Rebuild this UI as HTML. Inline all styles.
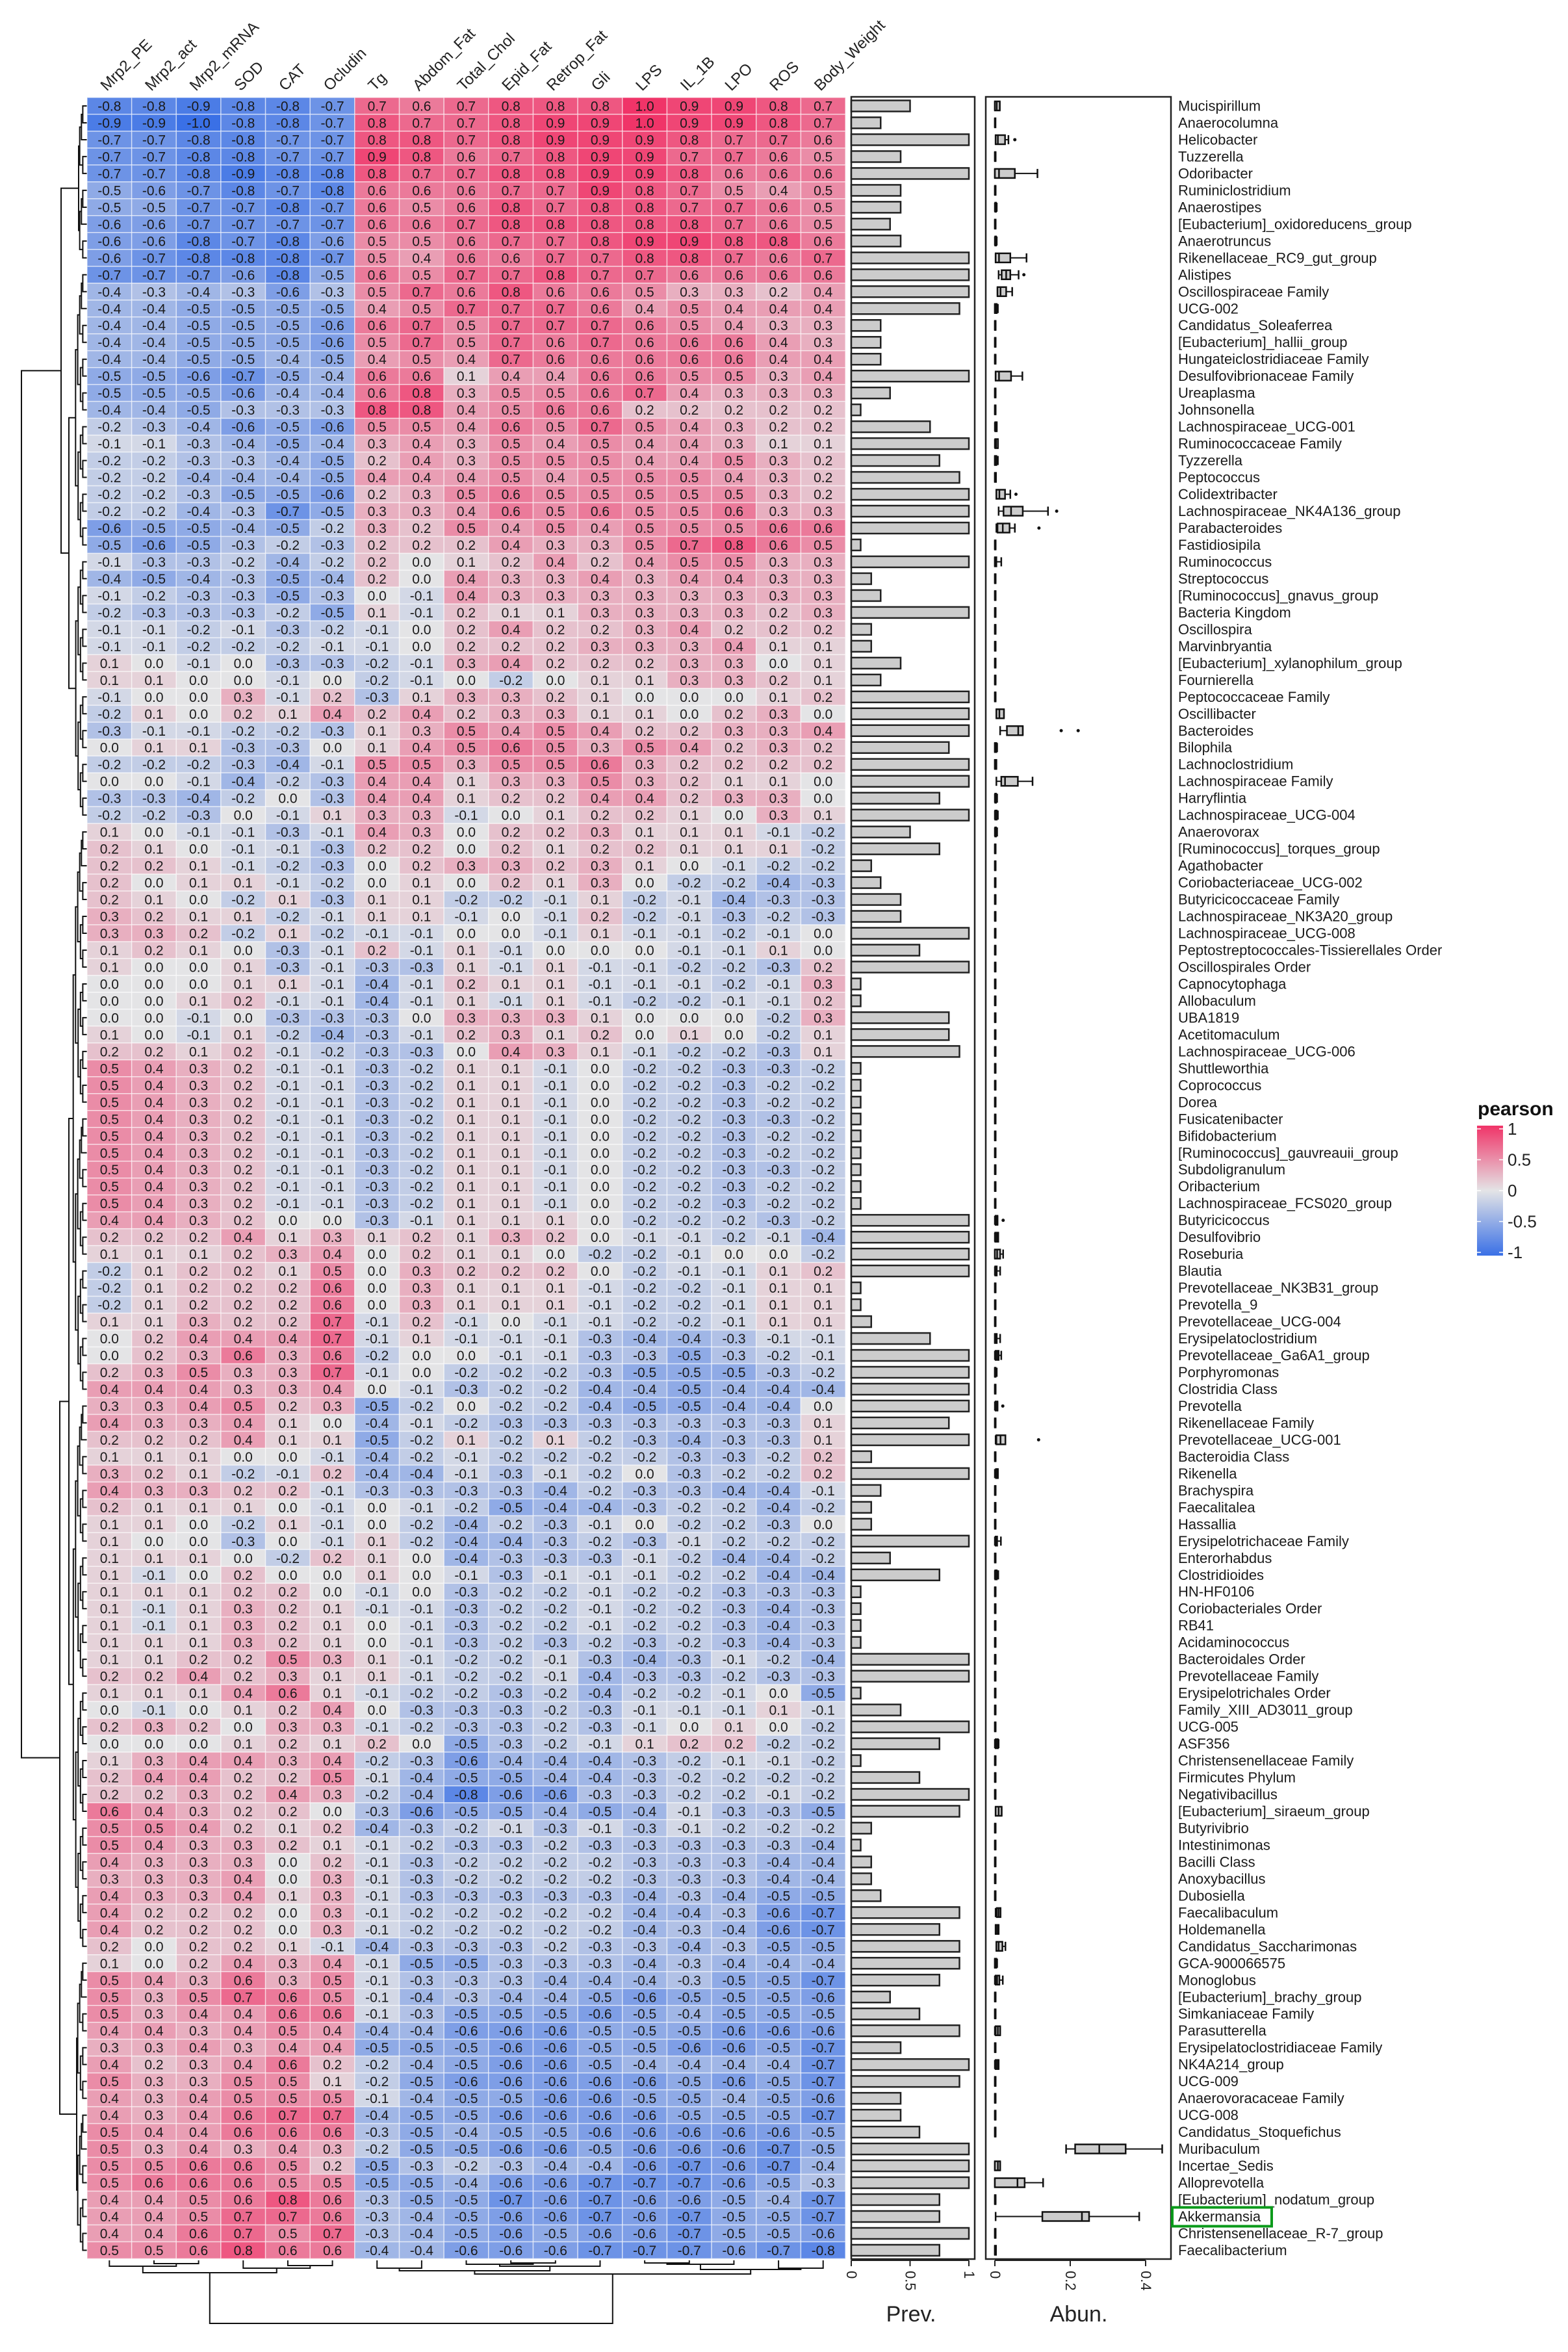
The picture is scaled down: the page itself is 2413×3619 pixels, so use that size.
<!DOCTYPE html>
<html><head><meta charset="utf-8"><title>Correlation heatmap</title>
<style>
html,body{margin:0;padding:0;background:#fff;}
svg{display:block;font-family:"Liberation Sans",Arial,sans-serif;}
</style></head>
<body>
<svg id="chart" width="2413" height="3619" viewBox="0 0 2413 3619" xmlns="http://www.w3.org/2000/svg">
<rect x="0" y="0" width="2413" height="3619" fill="#fff"/>
<g id="dend-rows" stroke="#111" stroke-width="2" fill="none"></g>
<g id="dend-cols" stroke="#111" stroke-width="2" fill="none"></g>
<g id="cells"></g>
<g id="collabels"></g>
<g id="prev"></g>
<g id="abun"></g>
<g id="rowlabels"></g>
<g id="legend"></g>
</svg>
<script>
const cols = ["Mrp2_PE","Mrp2_act","Mrp2_mRNA","SOD","CAT","Ocludin","Tg","Abdom_Fat","Total_Chol","Epid_Fat","Retrop_Fat","Gli","LPS","IL_1B","LPO","ROS","Body_Weight"];
const rows = ["Mucispirillum","Anaerocolumna","Helicobacter","Tuzzerella","Odoribacter","Ruminiclostridium","Anaerostipes","[Eubacterium]_oxidoreducens_group","Anaerotruncus","Rikenellaceae_RC9_gut_group","Alistipes","Oscillospiraceae Family","UCG-002","Candidatus_Soleaferrea","[Eubacterium]_hallii_group","Hungateiclostridiaceae Family","Desulfovibrionaceae Family","Ureaplasma","Johnsonella","Lachnospiraceae_UCG-001","Ruminococcaceae Family","Tyzzerella","Peptococcus","Colidextribacter","Lachnospiraceae_NK4A136_group","Parabacteroides","Fastidiosipila","Ruminococcus","Streptococcus","[Ruminococcus]_gnavus_group","Bacteria Kingdom","Oscillospira","Marvinbryantia","[Eubacterium]_xylanophilum_group","Fournierella","Peptococcaceae Family","Oscillibacter","Bacteroides","Bilophila","Lachnoclostridium","Lachnospiraceae Family","Harryflintia","Lachnospiraceae_UCG-004","Anaerovorax","[Ruminococcus]_torques_group","Agathobacter","Coriobacteriaceae_UCG-002","Butyricicoccaceae Family","Lachnospiraceae_NK3A20_group","Lachnospiraceae_UCG-008","Peptostreptococcales-Tissierellales Order","Oscillospirales Order","Capnocytophaga","Allobaculum","UBA1819","Acetitomaculum","Lachnospiraceae_UCG-006","Shuttleworthia","Coprococcus","Dorea","Fusicatenibacter","Bifidobacterium","[Ruminococcus]_gauvreauii_group","Subdoligranulum","Oribacterium","Lachnospiraceae_FCS020_group","Butyricicoccus","Desulfovibrio","Roseburia","Blautia","Prevotellaceae_NK3B31_group","Prevotella_9","Prevotellaceae_UCG-004","Erysipelatoclostridium","Prevotellaceae_Ga6A1_group","Porphyromonas","Clostridia Class","Prevotella","Rikenellaceae Family","Prevotellaceae_UCG-001","Bacteroidia Class","Rikenella","Brachyspira","Faecalitalea","Hassallia","Erysipelotrichaceae Family","Enterorhabdus","Clostridioides","HN-HF0106","Coriobacteriales Order","RB41","Acidaminococcus","Bacteroidales Order","Prevotellaceae Family","Erysipelotrichales Order","Family_XIII_AD3011_group","UCG-005","ASF356","Christensenellaceae Family","Firmicutes Phylum","Negativibacillus","[Eubacterium]_siraeum_group","Butyrivibrio","Intestinimonas","Bacilli Class","Anoxybacillus","Dubosiella","Faecalibaculum","Holdemanella","Candidatus_Saccharimonas","GCA-900066575","Monoglobus","[Eubacterium]_brachy_group","Simkaniaceae Family","Parasutterella","Erysipelatoclostridiaceae Family","NK4A214_group","UCG-009","Anaerovoracaceae Family","UCG-008","Candidatus_Stoquefichus","Muribaculum","Incertae_Sedis","Alloprevotella","[Eubacterium]_nodatum_group","Akkermansia","Christensenellaceae_R-7_group","Faecalibacterium"];
const corr = [
[-0.8,-0.8,-0.9,-0.8,-0.8,-0.7,0.7,0.6,0.7,0.8,0.8,0.8,1.0,0.9,0.9,0.8,0.7],
[-0.9,-0.9,-1.0,-0.8,-0.8,-0.7,0.8,0.7,0.7,0.8,0.9,0.9,1.0,0.9,0.9,0.8,0.7],
[-0.7,-0.7,-0.8,-0.8,-0.7,-0.7,0.8,0.8,0.7,0.8,0.9,0.9,0.9,0.8,0.7,0.7,0.6],
[-0.7,-0.7,-0.8,-0.8,-0.7,-0.7,0.9,0.8,0.6,0.7,0.8,0.9,0.9,0.7,0.7,0.6,0.5],
[-0.7,-0.7,-0.8,-0.9,-0.8,-0.8,0.8,0.7,0.7,0.8,0.8,0.9,0.9,0.8,0.6,0.6,0.6],
[-0.5,-0.6,-0.7,-0.8,-0.7,-0.8,0.6,0.6,0.6,0.7,0.7,0.9,0.8,0.7,0.5,0.4,0.5],
[-0.5,-0.5,-0.7,-0.7,-0.8,-0.7,0.6,0.5,0.6,0.8,0.7,0.8,0.8,0.7,0.7,0.6,0.5],
[-0.6,-0.6,-0.7,-0.7,-0.7,-0.7,0.6,0.6,0.7,0.8,0.8,0.8,0.8,0.8,0.7,0.6,0.5],
[-0.6,-0.6,-0.8,-0.7,-0.8,-0.6,0.5,0.5,0.6,0.7,0.7,0.8,0.9,0.9,0.8,0.8,0.6],
[-0.6,-0.7,-0.8,-0.8,-0.8,-0.7,0.5,0.4,0.6,0.6,0.7,0.7,0.8,0.8,0.7,0.6,0.7],
[-0.7,-0.7,-0.7,-0.6,-0.8,-0.5,0.6,0.5,0.7,0.7,0.8,0.7,0.7,0.6,0.6,0.6,0.6],
[-0.4,-0.3,-0.4,-0.3,-0.6,-0.3,0.5,0.7,0.6,0.8,0.6,0.6,0.5,0.3,0.3,0.2,0.4],
[-0.4,-0.4,-0.5,-0.5,-0.5,-0.5,0.4,0.5,0.7,0.7,0.7,0.6,0.4,0.5,0.4,0.4,0.4],
[-0.4,-0.4,-0.5,-0.5,-0.5,-0.6,0.6,0.7,0.5,0.7,0.7,0.7,0.6,0.5,0.4,0.3,0.3],
[-0.4,-0.4,-0.5,-0.5,-0.5,-0.6,0.5,0.7,0.5,0.7,0.6,0.7,0.6,0.6,0.6,0.4,0.3],
[-0.4,-0.4,-0.5,-0.5,-0.4,-0.5,0.4,0.5,0.4,0.7,0.6,0.6,0.6,0.6,0.6,0.4,0.4],
[-0.5,-0.5,-0.6,-0.7,-0.5,-0.4,0.6,0.6,0.1,0.4,0.4,0.6,0.6,0.5,0.5,0.3,0.4],
[-0.5,-0.5,-0.5,-0.6,-0.4,-0.4,0.6,0.8,0.3,0.5,0.5,0.6,0.7,0.4,0.3,0.3,0.3],
[-0.4,-0.4,-0.5,-0.3,-0.3,-0.3,0.8,0.8,0.4,0.5,0.6,0.6,0.2,0.2,0.2,0.2,0.2],
[-0.2,-0.3,-0.4,-0.6,-0.5,-0.6,0.5,0.5,0.4,0.6,0.5,0.7,0.5,0.4,0.3,0.2,0.2],
[-0.1,-0.1,-0.3,-0.4,-0.5,-0.4,0.3,0.4,0.3,0.5,0.4,0.5,0.4,0.4,0.3,0.1,0.1],
[-0.2,-0.2,-0.3,-0.3,-0.4,-0.5,0.2,0.4,0.3,0.5,0.5,0.5,0.4,0.4,0.5,0.3,0.2],
[-0.2,-0.2,-0.4,-0.4,-0.4,-0.5,0.4,0.4,0.4,0.5,0.4,0.5,0.5,0.5,0.4,0.3,0.2],
[-0.2,-0.2,-0.3,-0.5,-0.5,-0.6,0.2,0.3,0.5,0.6,0.5,0.5,0.5,0.5,0.5,0.3,0.2],
[-0.2,-0.2,-0.4,-0.3,-0.7,-0.5,0.3,0.3,0.4,0.6,0.5,0.6,0.5,0.5,0.6,0.3,0.3],
[-0.6,-0.5,-0.5,-0.4,-0.5,-0.2,0.3,0.2,0.5,0.4,0.5,0.4,0.5,0.5,0.5,0.6,0.6],
[-0.5,-0.6,-0.5,-0.3,-0.2,-0.3,0.2,0.2,0.2,0.4,0.3,0.3,0.5,0.7,0.8,0.6,0.5],
[-0.1,-0.3,-0.3,-0.2,-0.4,-0.2,0.2,-0.0,0.1,0.2,0.4,0.2,0.4,0.5,0.5,0.3,0.3],
[-0.4,-0.5,-0.4,-0.3,-0.5,-0.4,0.2,0.0,0.4,0.3,0.3,0.4,0.3,0.4,0.4,0.3,0.3],
[-0.1,-0.2,-0.3,-0.3,-0.5,-0.3,0.0,-0.1,0.4,0.3,0.3,0.3,0.3,0.3,0.3,0.3,0.3],
[-0.2,-0.3,-0.3,-0.3,-0.2,-0.5,0.1,-0.1,0.2,0.1,0.1,0.3,0.3,0.3,0.3,0.2,0.3],
[-0.1,-0.1,-0.2,-0.1,-0.3,-0.2,-0.1,0.0,0.2,0.4,0.2,0.2,0.3,0.4,0.2,0.2,0.2],
[-0.1,-0.1,-0.2,-0.2,-0.2,-0.1,-0.1,-0.0,0.2,0.2,0.2,0.3,0.3,0.3,0.4,0.1,0.1],
[0.1,-0.0,-0.1,0.0,-0.3,-0.3,-0.2,-0.1,0.3,0.4,0.2,0.2,0.2,0.3,0.3,0.0,0.1],
[0.1,0.1,0.0,0.0,-0.1,-0.0,-0.2,-0.1,-0.0,-0.2,-0.0,0.1,0.1,0.3,0.3,0.2,0.1],
[-0.1,-0.0,0.0,0.3,-0.1,0.2,-0.3,0.1,0.3,0.3,0.2,0.1,-0.0,-0.0,0.0,0.1,0.2],
[-0.2,0.1,0.0,0.2,0.1,0.4,0.2,0.4,0.2,0.3,0.3,0.1,0.1,0.0,0.2,0.3,-0.0],
[-0.3,-0.1,-0.1,-0.2,-0.2,-0.3,0.1,0.3,0.5,0.4,0.5,0.4,0.2,0.2,0.3,0.3,0.4],
[-0.0,0.1,0.1,-0.3,-0.3,-0.0,0.1,0.4,0.5,0.6,0.5,0.3,0.5,0.4,0.2,0.3,0.2],
[-0.2,-0.2,-0.2,-0.3,-0.4,-0.1,0.5,0.5,0.3,0.5,0.5,0.6,0.3,0.2,0.2,0.2,0.2],
[-0.0,-0.0,-0.1,-0.4,-0.2,-0.3,0.4,0.4,0.1,0.3,0.3,0.5,0.3,0.2,0.1,0.1,-0.0],
[-0.3,-0.3,-0.4,-0.2,-0.0,-0.3,0.4,0.4,0.1,0.2,0.2,0.4,0.4,0.2,0.3,0.3,0.0],
[-0.2,-0.2,-0.3,-0.0,-0.1,0.1,0.3,0.3,-0.1,0.0,0.1,0.2,0.2,0.1,0.0,0.3,0.1],
[0.1,0.0,-0.1,-0.1,-0.3,-0.1,0.4,0.3,-0.0,0.2,0.2,0.3,0.1,0.1,0.1,-0.1,-0.2],
[0.2,0.1,-0.0,-0.1,-0.1,-0.3,0.2,0.2,0.0,0.2,0.1,0.2,0.2,0.1,0.1,0.1,-0.2],
[0.2,0.2,0.1,-0.1,-0.2,-0.3,0.0,0.2,0.3,0.3,0.2,0.3,0.1,-0.0,-0.1,-0.2,-0.2],
[0.2,0.0,0.1,0.1,-0.1,-0.2,0.0,0.1,0.0,0.2,0.1,0.3,-0.0,-0.2,-0.2,-0.4,-0.3],
[0.2,0.1,0.0,-0.2,0.1,-0.3,0.1,0.1,-0.2,-0.2,-0.1,0.1,-0.2,-0.1,-0.4,-0.3,-0.3],
[0.3,0.2,0.1,0.1,-0.2,-0.1,0.1,0.1,-0.1,0.0,-0.1,0.2,-0.2,-0.1,-0.3,-0.2,-0.3],
[0.3,0.3,0.2,-0.2,0.1,-0.2,-0.1,-0.1,-0.0,-0.0,-0.1,0.1,-0.1,-0.1,-0.2,-0.1,0.0],
[0.1,0.2,0.1,-0.0,-0.3,-0.1,0.2,-0.1,0.1,-0.1,-0.0,0.0,-0.0,-0.1,-0.1,0.1,-0.0],
[0.1,-0.0,-0.0,0.1,-0.3,-0.1,-0.3,-0.3,0.1,-0.1,0.1,-0.1,-0.1,-0.2,-0.2,-0.3,0.2],
[0.0,0.0,0.0,0.1,0.1,-0.1,-0.4,-0.1,0.2,0.1,0.1,-0.1,-0.1,-0.1,-0.2,-0.1,0.3],
[0.0,0.0,0.1,0.2,-0.1,-0.1,-0.4,-0.1,0.1,-0.1,0.1,-0.1,-0.2,-0.2,-0.1,-0.1,0.2],
[0.0,-0.0,-0.1,0.0,-0.3,-0.3,-0.3,-0.0,0.3,0.3,0.3,0.1,0.0,0.0,-0.0,-0.2,0.3],
[0.1,-0.0,-0.1,0.1,-0.2,-0.4,-0.3,-0.1,0.2,0.3,0.1,0.2,0.0,0.1,0.0,-0.2,0.1],
[0.2,0.2,0.1,0.2,-0.1,-0.2,-0.3,-0.3,0.0,0.4,0.3,0.1,-0.1,-0.2,-0.2,-0.3,0.1],
[0.5,0.4,0.3,0.2,-0.1,-0.1,-0.3,-0.2,0.1,0.1,-0.1,-0.0,-0.2,-0.2,-0.3,-0.3,-0.2],
[0.5,0.4,0.3,0.2,-0.1,-0.1,-0.3,-0.2,0.1,0.1,-0.1,-0.0,-0.2,-0.2,-0.3,-0.2,-0.2],
[0.5,0.4,0.3,0.2,-0.1,-0.1,-0.3,-0.2,0.1,0.1,-0.1,-0.0,-0.2,-0.2,-0.3,-0.2,-0.2],
[0.5,0.4,0.3,0.2,-0.1,-0.1,-0.3,-0.2,0.1,0.1,-0.1,-0.0,-0.2,-0.2,-0.3,-0.3,-0.2],
[0.5,0.4,0.3,0.2,-0.1,-0.1,-0.3,-0.2,0.1,0.1,-0.1,-0.0,-0.2,-0.2,-0.3,-0.2,-0.2],
[0.5,0.4,0.3,0.2,-0.1,-0.1,-0.3,-0.2,0.1,0.1,-0.1,-0.0,-0.2,-0.2,-0.3,-0.2,-0.2],
[0.5,0.4,0.3,0.2,-0.1,-0.1,-0.3,-0.2,0.1,0.1,-0.1,-0.0,-0.2,-0.2,-0.3,-0.3,-0.2],
[0.5,0.4,0.3,0.2,-0.1,-0.1,-0.3,-0.2,0.1,0.1,-0.1,-0.0,-0.2,-0.2,-0.3,-0.2,-0.2],
[0.5,0.4,0.3,0.2,-0.1,-0.1,-0.3,-0.2,0.1,0.1,-0.1,-0.0,-0.2,-0.2,-0.3,-0.2,-0.2],
[0.4,0.4,0.3,0.2,-0.0,0.0,-0.3,-0.1,0.1,0.1,0.1,0.0,-0.2,-0.2,-0.2,-0.3,-0.2],
[0.2,0.2,0.2,0.4,0.1,0.3,0.1,0.2,0.1,0.3,0.2,0.0,-0.1,-0.1,-0.2,-0.1,-0.4],
[0.1,0.1,0.1,0.2,0.3,0.4,0.0,0.2,0.1,0.1,-0.0,-0.2,-0.2,-0.1,-0.0,-0.0,-0.2],
[-0.2,0.1,0.2,0.2,0.1,0.5,-0.0,0.3,0.2,0.2,0.2,0.0,-0.2,-0.1,-0.1,0.1,0.2],
[-0.2,0.1,0.2,0.2,0.2,0.6,0.0,0.3,0.1,0.1,0.1,-0.1,-0.2,-0.2,-0.1,0.1,0.1],
[-0.2,0.1,0.2,0.2,0.2,0.6,0.0,0.3,0.1,0.1,0.1,-0.1,-0.2,-0.2,-0.1,0.1,0.1],
[0.1,0.1,0.3,0.2,0.2,0.7,-0.1,0.2,-0.1,-0.0,-0.1,-0.1,-0.2,-0.2,-0.1,0.1,0.1],
[-0.0,0.2,0.4,0.4,0.4,0.7,-0.1,0.1,-0.1,-0.1,-0.1,-0.3,-0.4,-0.4,-0.3,-0.1,-0.1],
[0.0,0.2,0.3,0.6,0.3,0.6,-0.2,0.0,0.0,-0.1,-0.1,-0.3,-0.3,-0.5,-0.3,-0.2,-0.1],
[0.2,0.3,0.5,0.3,0.3,0.7,-0.1,0.0,-0.2,-0.2,-0.2,-0.3,-0.5,-0.5,-0.5,-0.3,-0.2],
[0.4,0.4,0.4,0.3,0.3,0.4,-0.0,-0.1,-0.3,-0.2,-0.2,-0.4,-0.4,-0.5,-0.4,-0.4,-0.4],
[0.3,0.3,0.4,0.5,0.2,0.3,-0.5,-0.2,-0.0,-0.2,-0.2,-0.4,-0.5,-0.5,-0.4,-0.4,0.0],
[0.4,0.3,0.3,0.4,0.1,0.0,-0.4,-0.1,-0.2,-0.3,-0.3,-0.3,-0.3,-0.3,-0.3,-0.3,0.1],
[0.2,0.2,0.2,0.4,0.1,0.1,-0.5,-0.2,0.1,-0.2,0.1,-0.2,-0.3,-0.4,-0.3,-0.3,0.1],
[0.1,0.1,0.1,0.0,-0.0,-0.1,-0.4,-0.2,-0.1,-0.2,-0.2,-0.2,-0.2,-0.3,-0.3,-0.2,0.2],
[0.3,0.2,0.1,-0.2,-0.1,0.2,-0.4,-0.4,-0.1,-0.3,-0.1,-0.2,-0.0,-0.3,-0.2,-0.2,0.2],
[0.4,0.3,0.3,0.2,0.2,-0.1,-0.3,-0.3,-0.3,-0.3,-0.4,-0.2,-0.3,-0.3,-0.4,-0.4,-0.1],
[0.2,0.1,0.1,0.1,0.0,-0.1,0.0,-0.1,-0.2,-0.5,-0.4,-0.4,-0.3,-0.2,-0.2,-0.4,-0.2],
[0.1,0.1,0.0,-0.2,0.1,-0.1,0.0,-0.2,-0.4,-0.2,-0.3,-0.1,0.0,-0.2,-0.2,-0.3,-0.0],
[0.1,-0.0,0.0,-0.3,0.0,-0.1,0.1,-0.2,-0.4,-0.4,-0.3,-0.2,-0.3,-0.1,-0.2,-0.2,-0.2],
[0.1,0.1,0.1,0.0,-0.2,0.2,0.1,-0.0,-0.4,-0.3,-0.3,-0.3,-0.1,-0.2,-0.4,-0.4,-0.2],
[0.1,-0.1,0.0,0.2,0.0,-0.0,0.1,-0.0,-0.1,-0.3,-0.1,-0.1,-0.1,-0.2,-0.2,-0.4,-0.4],
[0.1,0.1,0.1,0.2,0.2,0.0,-0.1,-0.0,-0.3,-0.2,-0.2,-0.1,-0.2,-0.2,-0.3,-0.3,-0.3],
[0.1,-0.1,0.1,0.3,0.2,0.1,-0.1,-0.1,-0.3,-0.2,-0.2,-0.1,-0.2,-0.2,-0.3,-0.4,-0.3],
[0.1,-0.1,0.1,0.3,0.2,0.1,-0.0,-0.1,-0.3,-0.2,-0.2,-0.1,-0.2,-0.2,-0.3,-0.4,-0.3],
[0.1,0.1,0.1,0.3,0.2,0.1,-0.0,-0.1,-0.3,-0.2,-0.3,-0.2,-0.3,-0.2,-0.3,-0.4,-0.3],
[0.1,0.1,0.2,0.2,0.5,0.3,0.1,-0.1,-0.2,-0.2,-0.1,-0.3,-0.4,-0.3,-0.1,-0.2,-0.4],
[0.2,0.2,0.4,0.2,0.3,0.1,0.1,-0.1,-0.2,-0.2,-0.1,-0.4,-0.3,-0.3,-0.2,-0.3,-0.3],
[0.1,0.1,0.1,0.4,0.6,0.1,-0.1,-0.2,-0.2,-0.3,-0.2,-0.4,-0.2,-0.2,-0.1,-0.0,-0.5],
[0.0,-0.1,0.0,0.1,0.2,0.4,-0.0,-0.3,-0.3,-0.3,-0.2,-0.3,-0.1,-0.1,-0.1,0.1,-0.1],
[0.2,0.3,0.2,-0.0,0.3,0.3,-0.1,-0.2,-0.3,-0.3,-0.2,-0.3,-0.1,0.0,0.1,-0.0,-0.2],
[-0.0,0.0,-0.0,0.1,0.2,0.1,0.2,-0.0,-0.5,-0.3,-0.2,-0.1,0.1,0.2,0.2,-0.2,-0.2],
[0.1,0.3,0.4,0.4,0.3,0.4,-0.2,-0.3,-0.6,-0.4,-0.4,-0.4,-0.3,-0.2,-0.1,-0.1,-0.2],
[0.2,0.4,0.4,0.2,0.2,0.5,-0.1,-0.4,-0.5,-0.5,-0.4,-0.4,-0.3,-0.2,-0.2,-0.2,-0.2],
[0.2,0.2,0.3,0.2,0.4,0.3,-0.2,-0.4,-0.8,-0.6,-0.6,-0.3,-0.3,-0.2,-0.2,-0.1,-0.2],
[0.6,0.4,0.3,0.2,0.2,-0.0,-0.3,-0.6,-0.5,-0.5,-0.4,-0.5,-0.4,-0.1,-0.3,-0.3,-0.5],
[0.5,0.5,0.4,0.2,0.1,0.2,-0.4,-0.3,-0.2,-0.1,-0.3,-0.1,-0.3,-0.1,-0.2,-0.2,-0.2],
[0.5,0.4,0.3,0.3,0.2,0.1,-0.1,-0.2,-0.3,-0.3,-0.2,-0.3,-0.3,-0.3,-0.3,-0.3,-0.4],
[0.4,0.3,0.3,0.3,-0.0,0.2,-0.1,-0.3,-0.2,-0.2,-0.2,-0.2,-0.3,-0.3,-0.3,-0.4,-0.4],
[0.3,0.3,0.3,0.4,0.0,0.3,-0.1,-0.3,-0.2,-0.2,-0.2,-0.2,-0.3,-0.3,-0.3,-0.4,-0.4],
[0.4,0.3,0.3,0.4,0.1,0.3,-0.1,-0.3,-0.3,-0.3,-0.3,-0.3,-0.4,-0.3,-0.4,-0.5,-0.5],
[0.4,0.2,0.2,0.2,0.0,0.3,-0.1,-0.2,-0.2,-0.2,-0.2,-0.2,-0.4,-0.4,-0.3,-0.6,-0.7],
[0.4,0.2,0.2,0.2,0.0,0.3,-0.1,-0.2,-0.2,-0.2,-0.2,-0.2,-0.4,-0.3,-0.4,-0.6,-0.7],
[0.2,0.0,0.2,0.2,0.1,-0.1,-0.4,-0.3,-0.3,-0.3,-0.2,-0.3,-0.3,-0.4,-0.3,-0.5,-0.5],
[0.1,-0.0,0.2,0.4,0.3,0.4,-0.1,-0.5,-0.5,-0.3,-0.3,-0.3,-0.4,-0.3,-0.4,-0.4,-0.4],
[0.5,0.4,0.3,0.6,0.3,0.5,-0.1,-0.3,-0.3,-0.3,-0.4,-0.4,-0.4,-0.3,-0.5,-0.5,-0.7],
[0.5,0.3,0.5,0.7,0.6,0.5,-0.1,-0.4,-0.3,-0.4,-0.4,-0.5,-0.6,-0.5,-0.5,-0.5,-0.6],
[0.5,0.3,0.4,0.4,0.6,0.6,-0.1,-0.3,-0.5,-0.5,-0.5,-0.6,-0.5,-0.4,-0.5,-0.5,-0.5],
[0.4,0.4,0.3,0.4,0.5,0.4,-0.4,-0.4,-0.6,-0.6,-0.6,-0.5,-0.5,-0.5,-0.6,-0.6,-0.6],
[0.3,0.3,0.4,0.3,0.4,0.4,-0.5,-0.5,-0.5,-0.6,-0.6,-0.5,-0.5,-0.6,-0.6,-0.5,-0.7],
[0.4,0.2,0.3,0.4,0.6,0.2,-0.2,-0.4,-0.5,-0.6,-0.6,-0.5,-0.4,-0.4,-0.4,-0.4,-0.7],
[0.5,0.3,0.3,0.5,0.5,0.1,-0.2,-0.5,-0.6,-0.6,-0.6,-0.6,-0.6,-0.5,-0.6,-0.5,-0.7],
[0.4,0.3,0.4,0.5,0.5,0.5,-0.1,-0.4,-0.5,-0.5,-0.6,-0.6,-0.5,-0.5,-0.4,-0.5,-0.6],
[0.4,0.3,0.4,0.6,0.7,0.7,-0.4,-0.5,-0.5,-0.6,-0.6,-0.6,-0.6,-0.5,-0.5,-0.5,-0.7],
[0.5,0.4,0.4,0.6,0.6,0.6,-0.3,-0.5,-0.4,-0.5,-0.5,-0.6,-0.6,-0.6,-0.6,-0.6,-0.5],
[0.5,0.3,0.4,0.3,0.4,0.3,-0.2,-0.5,-0.5,-0.6,-0.6,-0.5,-0.6,-0.6,-0.6,-0.7,-0.5],
[0.5,0.5,0.6,0.6,0.5,0.2,-0.5,-0.3,-0.2,-0.3,-0.4,-0.4,-0.6,-0.7,-0.6,-0.7,-0.4],
[0.5,0.6,0.6,0.6,0.5,0.5,-0.5,-0.5,-0.4,-0.6,-0.6,-0.7,-0.7,-0.7,-0.6,-0.5,-0.3],
[0.4,0.4,0.5,0.6,0.8,0.6,-0.3,-0.5,-0.5,-0.7,-0.6,-0.7,-0.6,-0.6,-0.5,-0.4,-0.7],
[0.4,0.4,0.5,0.7,0.7,0.6,-0.3,-0.4,-0.5,-0.6,-0.6,-0.7,-0.6,-0.7,-0.5,-0.5,-0.7],
[0.4,0.4,0.6,0.7,0.5,0.7,-0.3,-0.4,-0.5,-0.6,-0.5,-0.6,-0.6,-0.7,-0.5,-0.5,-0.6],
[0.5,0.5,0.6,0.8,0.6,0.6,-0.4,-0.4,-0.6,-0.6,-0.6,-0.7,-0.7,-0.7,-0.6,-0.7,-0.8]
];
const prevalence = [0.5,0.25,1,0.42,1,0.42,0.42,0.33,0.42,1,1,1,0.92,0.25,0.25,0.25,1,0.33,0.08,0.67,1,0.75,0.92,1,1,1,0.08,1,0.17,0.25,1,0.17,0.17,0.42,0.25,1,1,1,0.83,1,1,0.75,1,0.5,0.75,0.17,0.25,0.42,0.42,1,0.58,1,0.08,0.08,0.83,0.83,0.92,0.08,0.08,0.08,0.08,0.08,0.08,0.08,0.08,0.08,1,1,1,1,0.08,0.08,0.17,0.67,1,1,1,1,0.83,1,0.17,1,0.25,0.17,0.17,1,0.33,0.75,0.08,0.08,0.08,0.08,1,1,0.08,0.42,1,0.75,0.08,0.58,1,0.92,0.17,0.08,0.17,0.17,0.25,0.92,0.75,0.92,0.92,0.75,0.33,0.58,0.92,0.42,1,0.92,0.42,0.42,0.58,1,1,1,0.75,0.75,1,0.75];
// abundance box stats in units of 0.001
const abunLo  = [0,0,2,0,0,0,0,0,0,2,10,7,0,0,0,0,2,0,0,0,0,0,0,4,10,4,0,0,0,0,0,0,0,0,0,0,4,14,0,0,4,0,0,0,0,0,0,0,0,0,0,0,0,0,0,0,0,0,0,0,0,0,0,0,0,0,0,0,0,0,0,0,0,0,0,0,0,0,0,2,0,0,0,0,0,0,0,0,0,0,0,0,0,0,0,0,0,0,0,0,0,2,0,0,0,0,0,2,2,4,0,0,0,0,0,0,0,0,0,0,0,189,0,0,0,2,0,0];
const abunQ1  = [0,0,2,0,0,0,1,0,1,2,18,7,0,0,0,0,2,0,0,1,1,0,0,4,23,7,0,0,0,0,0,0,0,0,0,0,4,32,0,0,17,1,1,1,0,0,0,0,0,0,0,0,0,0,0,0,0,0,0,0,0,0,0,0,0,0,2,1,0,1,0,0,0,0,2,0,0,2,0,4,0,3,0,0,0,2,0,1,0,0,0,0,0,0,0,0,0,2,0,0,0,2,0,0,0,0,0,5,2,4,0,2,0,0,2,0,2,0,0,0,0,213,0,0,0,126,0,0];
const abunMed = [5,1,8,1,11,1,2,1,2,11,30,15,3,1,1,1,11,1,1,3,3,2,1,12,43,21,1,2,1,1,1,1,1,1,1,1,12,62,2,2,27,2,3,2,1,1,1,1,1,1,1,1,1,1,1,1,1,1,1,1,1,1,1,1,1,1,4,5,6,3,1,1,1,2,6,1,1,5,1,15,1,5,1,1,1,4,1,3,1,1,1,1,1,1,1,1,1,5,1,1,1,10,1,1,1,1,1,10,6,10,2,6,1,1,8,1,6,1,1,1,1,277,8,60,1,231,1,1];
const abunQ3  = [13,1,27,2,53,2,3,2,3,41,41,30,5,2,2,2,43,2,2,5,8,4,3,27,74,39,2,4,2,2,2,2,2,2,2,2,24,74,4,4,61,3,5,3,2,2,2,2,2,2,2,2,2,2,2,2,2,2,2,2,2,2,2,2,2,2,7,9,14,5,2,2,2,5,10,2,2,7,2,28,2,8,2,2,2,6,2,5,2,2,2,2,2,2,2,2,2,8,2,2,2,18,2,2,2,2,2,15,10,20,4,12,2,2,14,2,10,2,2,2,2,347,14,79,2,250,2,3];
const abunHi  = [13,1,36,2,113,2,5,2,5,84,63,46,8,2,2,2,73,2,2,5,8,8,3,41,141,53,2,17,2,2,2,2,2,2,2,2,24,74,6,4,100,6,8,6,2,2,2,2,2,2,2,2,2,2,2,2,2,2,2,2,2,2,2,2,2,2,7,9,22,14,2,2,2,14,17,5,2,7,2,28,2,8,2,2,2,16,2,9,2,2,2,2,2,2,2,2,2,10,2,2,2,18,2,2,2,2,2,15,10,28,6,21,2,2,14,2,10,2,2,2,2,444,14,128,2,383,2,3];
const outlierRow = [3,11,24,25,26,38,38,67,78,80];
const outlierVal = [53,77,56,164,117,176,221,22,21,116];
const prevTicks = [0,0.5,1];
const prevTickLabels = ["0","0.5","1"];
const abunTicks = [0,0.2,0.4];
const abunTickLabels = ["0","0.2","0.4"];
const legendTicks = [1,0.5,0,-0.5,-1];
const legendTickLabels = ["1","0.5","0","-0.5","-1"];

const NS = "http://www.w3.org/2000/svg";
function mk(tag, attrs, parent){ const e=document.createElementNS(NS,tag); for(const k in attrs) e.setAttribute(k,attrs[k]); if(parent) parent.appendChild(e); return e; }

const X0=134, CW=68.65, Y0=150, RH=25.98;
const nR = rows.length, nC = cols.length;
const colX = c => X0 + CW*c;
const rowY = r => Y0 + RH*r;
const prevX = v => 1310 + v*181;
const abunX = v => 1531 + v/1000*580;

function colorFor(v){
  const neg=[58,112,230], mid=[228,228,230], pos=[240,52,104];
  const t=Math.max(-1,Math.min(1,v));
  const a = t<0 ? neg : pos; const f=Math.abs(t);
  return "rgb("+Math.round(mid[0]+(a[0]-mid[0])*f)+","+Math.round(mid[1]+(a[1]-mid[1])*f)+","+Math.round(mid[2]+(a[2]-mid[2])*f)+")";
}

// heatmap cells
const gCells = document.getElementById('cells');
for(let r=0;r<nR;r++){
  if(!corr[r]) continue;
  for(let c=0;c<nC;c++){
    const v = corr[r][c];
    if(v===undefined) continue;
    const rect = mk('rect',{x:colX(c),y:rowY(r),width:CW,height:RH,fill:colorFor(v),stroke:'#fff','stroke-opacity':0.55,'stroke-width':1.5},gCells);
    
    
    const t = mk('text',{x:colX(c)+CW/2,y:rowY(r)+RH/2+7.5,'text-anchor':'middle','font-size':21,fill:'#1a1a1a'},gCells);
    t.textContent = v.toFixed(1);
    
    
  }
}

// column labels
const gCL = document.getElementById('collabels');
for(let c=0;c<nC;c++){
  const x = colX(c)+CW/2-4, y = 141;
  const t = mk('text',{x:x,y:y,'font-size':24,fill:'#222',transform:'rotate(-45 '+x+' '+y+')'},gCL);
  t.textContent = cols[c];
  
  
}

// row labels
const gRL = document.getElementById('rowlabels');
for(let r=0;r<nR;r++){
  const t = mk('text',{x:1813,y:rowY(r)+RH/2+7.5,'font-size':22,fill:'#1a1a1a'},gRL);
  t.textContent = rows[r];
  
  
}
const hl = mk('rect',{x:1804,y:rowY(125)-1,width:153,height:RH+3,fill:'none',stroke:'#0a9a1a','stroke-width':4},gRL);



// prevalence panel
const gP = document.getElementById('prev');
const pBox = mk('rect',{x:1310,y:149,width:190,height:3327,fill:'none',stroke:'#222','stroke-width':2.5},gP);


for(let r=0;r<nR;r++){
  const b = mk('rect',{x:prevX(0),y:rowY(r)+4.5,width:prevX(prevalence[r])-prevX(0),height:17,fill:'#cccccc',stroke:'#222','stroke-width':2.5},gP);
  
  
}
mk('line',{x1:prevX(0),y1:3478,x2:prevX(1),y2:3478,stroke:'#222','stroke-width':2},gP);
prevTicks.forEach((v,i)=>{
  mk('line',{x1:prevX(v),y1:3478,x2:prevX(v),y2:3487,stroke:'#222','stroke-width':2},gP);
  const tx=prevX(v)-7;
  const t = mk('text',{x:tx,y:3494,'font-size':22,fill:'#222',transform:'rotate(90 '+tx+' 3494)'},gP);
  t.textContent = prevTickLabels[i];
  
  
});
const pT = mk('text',{x:1402,y:3572,'font-size':34,'text-anchor':'middle',fill:'#222'},gP);
pT.textContent='Prev.';



// abundance panel
const gA = document.getElementById('abun');
const aBox = mk('rect',{x:1517,y:149,width:285,height:3327,fill:'none',stroke:'#222','stroke-width':2.5},gA);


for(let r=0;r<nR;r++){
  const cy = rowY(r)+RH/2, h=14;
  const g = mk('g',{},gA);
  
  
  mk('line',{x1:abunX(abunLo[r]),y1:cy,x2:abunX(abunQ1[r]),y2:cy,stroke:'#111','stroke-width':2},g);
  mk('line',{x1:abunX(abunQ3[r]),y1:cy,x2:abunX(abunHi[r]),y2:cy,stroke:'#111','stroke-width':2},g);
  mk('line',{x1:abunX(abunLo[r]),y1:cy-h/2,x2:abunX(abunLo[r]),y2:cy+h/2,stroke:'#111','stroke-width':2.5},g);
  mk('line',{x1:abunX(abunHi[r]),y1:cy-h/2,x2:abunX(abunHi[r]),y2:cy+h/2,stroke:'#111','stroke-width':2.5},g);
  mk('rect',{x:abunX(abunQ1[r]),y:cy-h/2,width:Math.max(1,abunX(abunQ3[r])-abunX(abunQ1[r])),height:h,fill:'#cccccc',stroke:'#111','stroke-width':2.5},g);
  mk('line',{x1:abunX(abunMed[r]),y1:cy-h/2,x2:abunX(abunMed[r]),y2:cy+h/2,stroke:'#111','stroke-width':2.5},g);
}
outlierRow.forEach((r,i)=>{
  const p = mk('circle',{cx:abunX(outlierVal[i]),cy:rowY(r-1)+RH/2,r:2.5,fill:'#111'},gA);
  
  
});
mk('line',{x1:abunX(0),y1:3478,x2:abunX(400),y2:3478,stroke:'#222','stroke-width':2},gA);
abunTicks.forEach((v,i)=>{
  const x=abunX(v*1000);
  mk('line',{x1:x,y1:3478,x2:x,y2:3487,stroke:'#222','stroke-width':2},gA);
  const tx=x-7;
  const t = mk('text',{x:tx,y:3494,'font-size':22,fill:'#222',transform:'rotate(90 '+tx+' 3494)'},gA);
  t.textContent = abunTickLabels[i];
  
  
});
const aT = mk('text',{x:1660,y:3572,'font-size':34,'text-anchor':'middle',fill:'#222'},gA);
aT.textContent='Abun.';



// legend
const gL = document.getElementById('legend');
const defs = mk('defs',{},gL);
const lg = mk('linearGradient',{id:'pgrad',x1:0,y1:0,x2:0,y2:1},defs);
[[0,1],[0.5,0],[1,-1]].forEach(s=>mk('stop',{offset:s[0],'stop-color':colorFor(s[1])},lg));
const lt = mk('text',{x:2274,y:1716,'font-size':30,'font-weight':'bold',fill:'#111'},gL);
lt.textContent='pearson';


const lr = mk('rect',{x:2273,y:1732,width:40,height:200,fill:'url(#pgrad)'},gL);


const legY = v => 1832 - v*95;
legendTicks.forEach((v,i)=>{
  mk('line',{x1:2273,y1:legY(v),x2:2279,y2:legY(v),stroke:'#fff','stroke-width':1.5},gL);
  mk('line',{x1:2307,y1:legY(v),x2:2313,y2:legY(v),stroke:'#fff','stroke-width':1.5},gL);
  const t = mk('text',{x:2320,y:legY(v)+9,'font-size':26,fill:'#222'},gL);
  t.textContent = legendTickLabels[i];
  
  
});

// row dendrogram (structure only)
const gDR = document.getElementById('dend-rows');
const topSplits = {"0-127":[42,33],"0-42":[9,94],"43-127":[109,92],"0-9":[null,121],"10-42":[null,106],"43-109":[null,106],"110-127":[null,118]};
function rowNode(lo,hi){
  if(lo===hi) return {y:rowY(lo)+RH/2, x:X0};
  const key=lo+"-"+hi; let split=Math.floor((lo+hi)/2), x;
  const n=hi-lo+1;
  if(topSplits[key]){ if(topSplits[key][0]!==null) split=topSplits[key][0]; x=topSplits[key][1]; }
  else x = 131 - 3.6*Math.log2(n);
  const a=rowNode(lo,split), b=rowNode(split+1,hi);
  mk('path',{d:'M'+a.x+','+a.y+'H'+x+'V'+b.y+'H'+b.x},gDR);
  return {y:(a.y+b.y)/2, x:x};
}
rowNode(0,nR-1);

// column dendrogram (structure only)
const gDC = document.getElementById('dend-cols');
function N(a,b,h){ return {a:a,b:b,h:h}; }
const L1 = N(0, N(1,2,5), 9);
const L2 = N(3, N(4,5,8), 12);
const LEFT = N(L1, L2, 19);
const R1 = N(6,7,12);
const R2 = N(N(8, N(9,10,4), 6), 11, 9);
const RA = N(R1, R2, 16);
const R3 = N(N(N(12,13,4),14,6), N(15,16,12), 14);
const RIGHT = N(RA, R3, 21);
const ROOT = N(LEFT, RIGHT, 97);
function colNode(t){
  if(typeof t==='number') return {x:colX(t)+CW/2, y:3478};
  const a=colNode(t.a), b=colNode(t.b);
  const y=3478+t.h;
  mk('path',{d:'M'+a.x+','+a.y+'V'+y+'H'+b.x+'V'+b.y},gDC);
  return {x:(a.x+b.x)/2, y:y};
}
colNode(ROOT);
</script>
</body></html>
